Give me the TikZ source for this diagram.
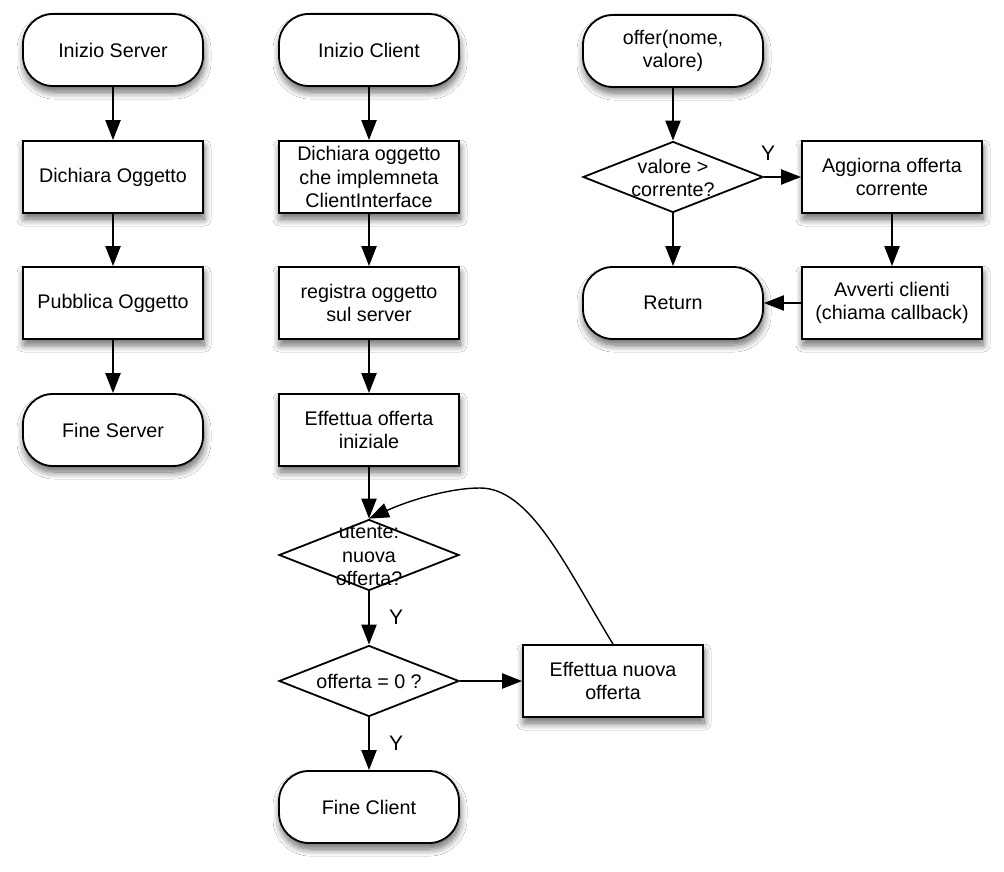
\documentclass[tikz,border=0pt]{standalone}
\usepackage{fontspec}
\setmainfont{Liberation Sans}
\usetikzlibrary{shapes.geometric,arrows.meta,shadows.blur}
\begin{document}
\begin{tikzpicture}[x=1pt,y=-1pt,
 font=\fontsize{19.7}{23.5}\selectfont,
 base/.style={draw=black, line width=1.8pt, fill=white, minimum width=180pt, minimum height=72pt, align=center, inner sep=2pt},
 shad/.style={blur shadow={shadow xshift=1pt, shadow yshift=-6pt, shadow blur radius=7pt, shadow blur steps=10, shadow opacity=60}},
 term/.style={base, shad, rounded corners=30pt},
 proc/.style={base, shad},
 dec/.style={base, diamond, minimum height=71pt, inner sep=0pt},
 txt/.style={align=center, inner sep=0pt},
 arr/.style={line width=2.2pt, -{Triangle[length=20pt,width=15pt]}},
 curv/.style={line width=1.4pt, -{Triangle[length=20pt,width=15pt]}},
 ylab/.style={font=\fontsize{21}{24}\selectfont, inner sep=0pt}
]
\useasboundingbox (0,0) rectangle (1004,872);
\fill[white] (0,0) rectangle (1004,872);

% server column
\node[term] (is) at (113,50) {Inizio Server};
\node[proc] (ds) at (113,177) {Dichiara Oggetto};
\node[proc] (ps) at (113,303) {Pubblica Oggetto};
\node[term] (fs) at (113,430) {Fine Server};

% client column
\node[term] (ic) at (369,50) {Inizio Client};
\node[proc] (dc) at (369,177) {Dichiara oggetto\\che implemneta\\ClientInterface};
\node[proc] (rc) at (369,303) {registra oggetto\\sul server};
\node[proc] (ec) at (369,430) {Effettua offerta\\iniziale};
\node[dec] (uc) at (369,555) {};
\node[txt] (uct) at (369,556) {utente:\\nuova\\offerta?};
\node[dec] (oc) at (369,681) {};
\node[txt] (oct) at (369,681) {offerta = 0 ?};
\node[term] (fc) at (369,807) {Fine Client};
\node[proc] (nc) at (613,681) {Effettua nuova\\offerta};

% offer column
\node[term] (of) at (673,51) {offer(nome,\\valore)};
\node[dec] (vc) at (673,177) {};
\node[txt] (vct) at (673,178) {valore >\\corrente?};
\node[proc] (ag) at (892,177) {Aggiorna offerta\\corrente};
\node[term] (rt) at (673,303) {Return};
\node[proc] (av) at (892,303) {Avverti clienti\\(chiama callback)};

% connectors
\draw[arr] (is) -- (ds);
\draw[arr] (ds) -- (ps);
\draw[arr] (ps) -- (fs);

\draw[arr] (ic) -- (dc);
\draw[arr] (dc) -- (rc);
\draw[arr] (rc) -- (ec);
\draw[arr] (ec) -- (uc);
\draw[arr] (uc) -- (oc);
\draw[arr] (oc) -- (fc);
\draw[arr] (oc) -- (nc);
\draw[curv] (nc.north) .. controls (565,565) and (530,488) .. (480,488)
  .. controls (450,488) and (410,500) .. (uc.north);

\draw[arr] (of) -- (vc);
\draw[arr] (vc) -- (ag);
\draw[arr] (vc) -- (rt);
\draw[arr] (ag) -- (av);
\draw[arr] (av) -- (rt);

% labels
\node[ylab] (y1) at (768,153) {Y};
\node[ylab] (y2) at (396,617) {Y};
\node[ylab] (y3) at (396,743) {Y};
\end{tikzpicture}
\end{document}
